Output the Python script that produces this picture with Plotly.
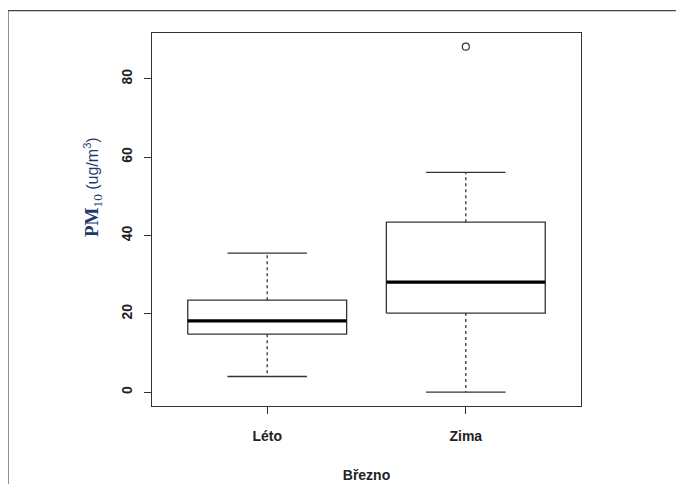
import plotly.graph_objects as go

# ---- data ----
categories = ["Léto", "Zima"]
positions = [1, 2]
lower_whisker = [4.0, 0.0]
q1 = [14.8, 20.2]
median = [18.2, 28.1]
q3 = [23.5, 43.4]
upper_whisker = [35.5, 56.1]
outlier_pos = [2]
outlier_vals = [88.2]
y_ticks = [0, 20, 40, 60, 80]

BOX_HALF = 0.4
CAP_HALF = 0.2
LINE = "#333333"

fig = go.Figure()

for i, p in enumerate(positions):
    # box outline
    fig.add_trace(go.Scatter(
        x=[p - BOX_HALF, p + BOX_HALF, p + BOX_HALF, p - BOX_HALF, p - BOX_HALF],
        y=[q1[i], q1[i], q3[i], q3[i], q1[i]],
        mode="lines", line=dict(color=LINE, width=1.3),
        fill="toself", fillcolor="white", hoverinfo="skip", showlegend=False))
    # median
    fig.add_trace(go.Scatter(
        x=[p - BOX_HALF, p + BOX_HALF], y=[median[i], median[i]],
        mode="lines", line=dict(color="black", width=3.2),
        hoverinfo="skip", showlegend=False))
    # whiskers (dashed)
    fig.add_trace(go.Scatter(
        x=[p, p, None, p, p],
        y=[q3[i], upper_whisker[i], None, q1[i], lower_whisker[i]],
        mode="lines", line=dict(color=LINE, width=1.3, dash="3px,3px"),
        hoverinfo="skip", showlegend=False))
    # caps
    fig.add_trace(go.Scatter(
        x=[p - CAP_HALF, p + CAP_HALF, None, p - CAP_HALF, p + CAP_HALF],
        y=[upper_whisker[i], upper_whisker[i], None, lower_whisker[i], lower_whisker[i]],
        mode="lines", line=dict(color=LINE, width=1.3),
        hoverinfo="skip", showlegend=False))

# outliers
fig.add_trace(go.Scatter(
    x=outlier_pos, y=outlier_vals, mode="markers",
    marker=dict(symbol="circle-open", size=7, color=LINE, line=dict(width=1.2)),
    hoverinfo="skip", showlegend=False))

font_axis = dict(family="Liberation Sans, Arial, sans-serif", size=14, color="#222222")

fig.update_layout(
    width=684, height=484,
    margin=dict(l=144, r=111, t=25, b=86),
    paper_bgcolor="white", plot_bgcolor="white",
    xaxis=dict(
        range=[0.42, 2.58], tickvals=positions,
        ticktext=["<b>%s</b>" % c for c in categories],
        ticks="outside", ticklen=7, tickcolor=LINE, tickwidth=1.2,
        showline=True, linecolor=LINE, linewidth=1.3, mirror=True,
        showgrid=False, zeroline=False, tickfont=font_axis,
        ticklabelstandoff=10,
        title=dict(text="<b>Březno</b>", font=font_axis, standoff=27),
    ),
    yaxis=dict(
        range=[-3.53, 91.7], tickvals=y_ticks,
        ticktext=["<b>%d</b>" % v for v in y_ticks],
        ticks="outside", ticklen=7, tickcolor=LINE, tickwidth=1.2,
        tickangle=-90,
        showline=True, linecolor=LINE, linewidth=1.3, mirror=True,
        showgrid=False, zeroline=False, tickfont=font_axis,
        ticklabelstandoff=6,
    ),
    annotations=[dict(
        xref="paper", yref="paper", x=-0.1375, y=0.587,
        xanchor="center", yanchor="middle", textangle=-90, showarrow=False,
        text=("<span style='font-family:Liberation Serif, Times New Roman, serif;font-size:19px'>"
              "<b>PM</b><sub>10</sub></span> (ug/m<sup>3</sup>)"),
        font=dict(family="Liberation Sans, Arial, sans-serif", size=16, color="#1f3a6e"),
    )],
    shapes=[dict(
        type="rect", xref="paper", yref="paper",
        x0=-0.3357, y0=-0.3, x1=1.3, y1=1.06,
        line=dict(color="#444444", width=1.2), layer="below")],
)

fig.write_html("out.html")
